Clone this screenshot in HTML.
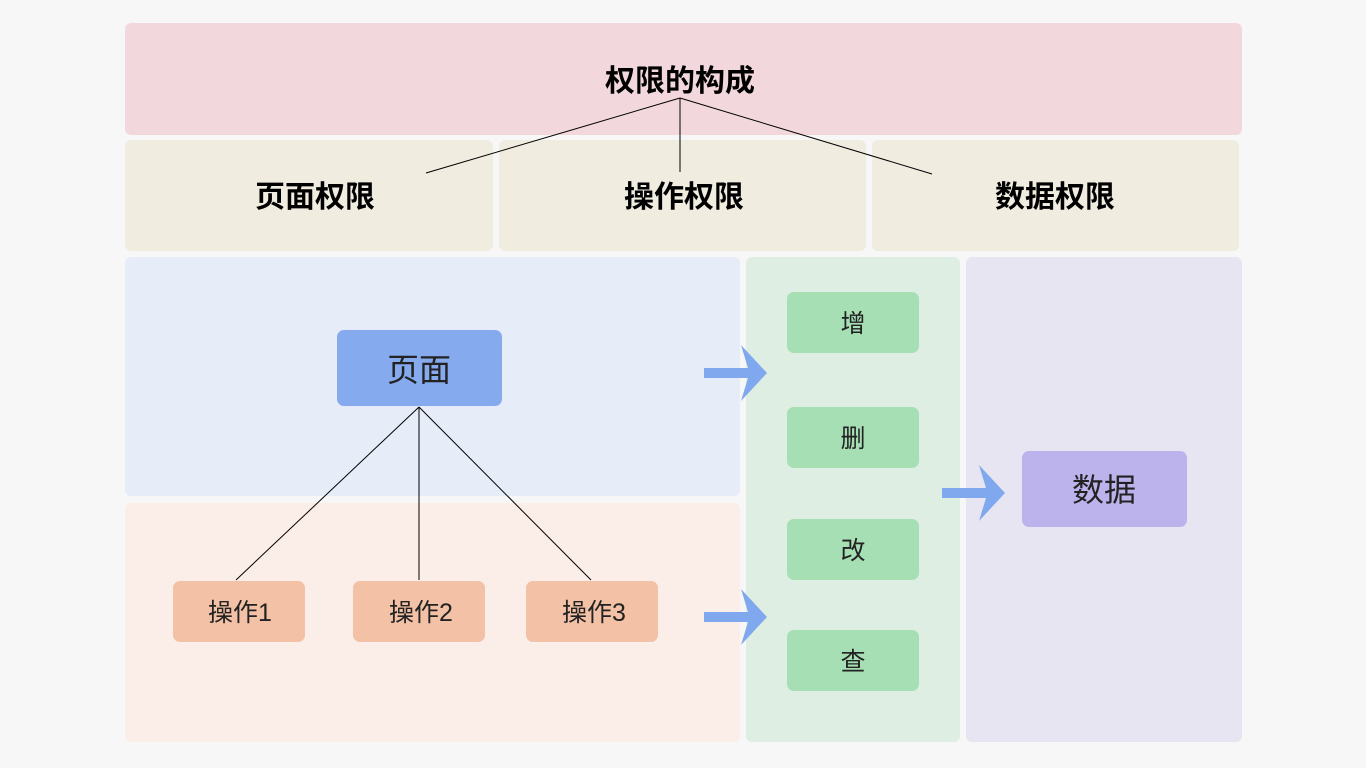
<!DOCTYPE html>
<html><head><meta charset="utf-8"><style>body{margin:0;background:#f7f7f7}svg{display:block}text{font-family:"Liberation Sans","Noto Sans CJK SC",sans-serif}</style></head><body>
<svg width="1366" height="768" viewBox="0 0 1366 768">
<rect width="1366" height="768" fill="#f7f7f7"/>
<rect x="125" y="23" width="1117" height="112" rx="6" fill="#f2d8dc"/>
<rect x="125" y="140" width="368" height="111" rx="6" fill="#f0ece0"/>
<rect x="499" y="140" width="367" height="111" rx="6" fill="#f0ece0"/>
<rect x="872" y="140" width="367" height="111" rx="6" fill="#f0ece0"/>
<rect x="125" y="257" width="615" height="239" rx="6" fill="#e6ecf8"/>
<rect x="125" y="503" width="615" height="239" rx="6" fill="#fbeee9"/>
<rect x="746" y="257" width="214" height="485" rx="6" fill="#deeee2"/>
<rect x="966" y="257" width="276" height="485" rx="6" fill="#e8e5f3"/>
<g font-weight="bold" font-size="30" text-anchor="middle" fill="#000">
<text x="680" y="91">权限的构成</text>
<text x="315" y="207">页面权限</text>
<text x="684" y="207">操作权限</text>
<text x="1055" y="207">数据权限</text>
</g>
<g stroke="#000" stroke-width="1" fill="none">
<line x1="680" y1="98" x2="426" y2="173"/>
<line x1="680" y1="98" x2="680" y2="172"/>
<line x1="680" y1="98" x2="932" y2="174"/>
<line x1="419" y1="407" x2="236" y2="580"/>
<line x1="419" y1="407" x2="419" y2="580"/>
<line x1="419" y1="407" x2="591" y2="580"/>
</g>
<rect x="337" y="330" width="165" height="76" rx="7" fill="#86aaee"/>
<text x="419" y="381" font-size="32" text-anchor="middle" fill="#222">页面</text>
<g fill="#f2c1a6">
<rect x="173" y="581" width="132" height="61" rx="7"/>
<rect x="353" y="581" width="132" height="61" rx="7"/>
<rect x="526" y="581" width="132" height="61" rx="7"/>
</g>
<g font-size="25" text-anchor="middle" fill="#222">
<text x="240" y="621">操作1</text>
<text x="421" y="621">操作2</text>
<text x="594" y="621">操作3</text>
</g>
<g fill="#a7dfb5">
<rect x="787" y="292" width="132" height="61" rx="7"/>
<rect x="787" y="407" width="132" height="61" rx="7"/>
<rect x="787" y="519" width="132" height="61" rx="7"/>
<rect x="787" y="630" width="132" height="61" rx="7"/>
</g>
<g font-size="25" text-anchor="middle" fill="#222">
<text x="853" y="332">增</text>
<text x="853" y="447">删</text>
<text x="853" y="559">改</text>
<text x="853" y="670">查</text>
</g>
<rect x="1022" y="451" width="165" height="76" rx="7" fill="#bdb3ec"/>
<text x="1104" y="501" font-size="32" text-anchor="middle" fill="#222">数据</text>
<g fill="#80a8ee">
<path d="M704 368 H748 L741 345 L767 373 L741 401 L748 378 H704 Z"/>
<path d="M704 612 H748 L741 589 L767 617 L741 645 L748 622 H704 Z"/>
<path d="M942 488 H986 L979 465 L1005 493 L979 521 L986 498 H942 Z"/>
</g>
</svg>
</body></html>
